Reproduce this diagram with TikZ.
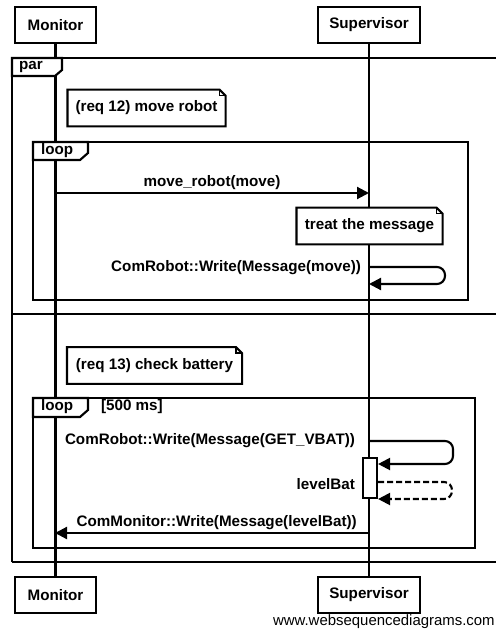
\documentclass[tikz,border=0pt]{standalone}
\usepackage{fontspec}
\setmainfont{Liberation Sans}
\usetikzlibrary{arrows.meta,calc}
\begin{document}
\begin{tikzpicture}[x=0.75pt,y=-0.75pt, line width=1.6pt, line join=miter,
  lbl/.style={font=\fontsize{11.4pt}{13pt}\selectfont\bfseries, inner sep=0pt},
  actor/.style={lbl, draw, fill=white, minimum height=27pt},
  notebox/.style={lbl, minimum height=26pt},
  msg/.style={-{Triangle[length=9pt,width=9pt]}},
  retmsg/.style={msg, dash pattern=on 4.5pt off 2.25pt},
  selfmsg/.style={msg, rounded corners=6pt},
]
\useasboundingbox (0,0) rectangle (496,629);
\clip (0,0) rectangle (496,629);

% actors
\node[actor, minimum width=61pt] (mon) at (55.5,25) {Monitor};
\node[actor, minimum width=76.5pt] (sup) at (369,25) {Supervisor};
\node[actor, minimum width=61pt] (mon2) at (55.5,595) {Monitor};
\node[actor, minimum width=76.5pt] (sup2) at (369,595) {Supervisor};

% lifelines
\draw (mon) -- (mon2);
\draw (sup) -- (sup2);

% par frame
\draw (12,562) -- (12,58) -- (510,58);
\draw (12,562) -- (510,562);
\draw (12,314) -- (510,314);
\draw[fill=white] (12,58) -- (62,58) -- (62,70) -- (55,76) -- (12,76) -- cycle;
\node[lbl, anchor=west] (partag) at (18,67) {par};

% note 1
\node[notebox, minimum width=117pt] (n1) at (146.5,108) {(req 12) move robot};
\draw[fill=white] (n1.south west) -- (n1.north west) -- ($(n1.north east)+(-6,0)$) -- ($(n1.north east)+(0,6)$) -- (n1.south east) -- cycle;
\draw[line width=1pt] ($(n1.north east)+(-6,0)$) -- ($(n1.north east)+(-6,6)$) -- ($(n1.north east)+(0,6)$);
\node[notebox, minimum width=117pt] at (n1) {(req 12) move robot};

% loop 1
\draw (33,142) rectangle (468,300);
\draw[fill=white] (33,142) -- (88,142) -- (88,153) -- (80,160) -- (33,160) -- cycle;
\node[lbl, anchor=west] (looptag1) at (40,151) {loop};

\coordinate (m1a) at (55,193);
\coordinate (m1b) at (369,193);
\draw[msg] (m1a) -- (m1b) node[lbl, midway, above=2pt] (m1l) {move\_robot(move)};

% note treat
\node[notebox, minimum width=108pt] (n3) at (369.5,226) {treat the message};
\draw[fill=white] (n3.south west) -- (n3.north west) -- ($(n3.north east)+(-6,0)$) -- ($(n3.north east)+(0,6)$) -- (n3.south east) -- cycle;
\draw[line width=1pt] ($(n3.north east)+(-6,0)$) -- ($(n3.north east)+(-6,6)$) -- ($(n3.north east)+(0,6)$);
\node[notebox, minimum width=108pt] at (n3) {treat the message};

\coordinate (s1a) at (369,267);
\coordinate (s1b) at (369,284);
\draw[selfmsg] (s1a) -- (445,267) -- (445,284) -- (s1b);
\node[lbl, anchor=east] (s1l) at (362,268) {ComRobot::Write(Message(move))};

% note 2
\node[notebox, minimum width=129.75pt] (n2) at (154.5,365.5) {(req 13) check battery};
\draw[fill=white] (n2.south west) -- (n2.north west) -- ($(n2.north east)+(-6,0)$) -- ($(n2.north east)+(0,6)$) -- (n2.south east) -- cycle;
\draw[line width=1pt] ($(n2.north east)+(-6,0)$) -- ($(n2.north east)+(-6,6)$) -- ($(n2.north east)+(0,6)$);
\node[notebox, minimum width=129.75pt] at (n2) {(req 13) check battery};

% loop 2
\draw (33,398) rectangle (475,548);
\draw[fill=white] (33,398) -- (88,398) -- (88,410) -- (80,417) -- (33,417) -- cycle;
\node[lbl, anchor=west] (looptag2) at (40,407) {loop};
\node[lbl, anchor=west] (guard) at (100,407) {[500 ms]};

% activation
\node[draw, fill=white, minimum width=10.5pt, minimum height=30pt, inner sep=0pt] (act) at (370,478) {};

\coordinate (s2a) at (369,441);
\coordinate (s2b) at (act.east |- 0,464);
\draw[selfmsg] (s2a) -- (453,441) -- (453,464) -- (s2b);
\node[lbl, anchor=east] (s2l) at (356,441) {ComRobot::Write(Message(GET\_VBAT))};

\coordinate (r1a) at (act.east |- 0,482);
\coordinate (r1b) at (act.east |- 0,499);
\draw[retmsg, rounded corners=6pt] (r1a) -- (452,482) -- (452,499) -- (r1b);
\node[lbl, anchor=east] (r1l) at (356,484) {levelBat};

\coordinate (m2a) at (369,533);
\coordinate (m2b) at (55,533);
\draw[msg] (m2a) -- (m2b) node[lbl, midway, above=2pt, xshift=3.5pt] (m2l) {ComMonitor::Write(Message(levelBat))};

% watermark
\node[font=\fontsize{11.2pt}{13pt}\selectfont, inner sep=0pt, anchor=west] (wm) at (272,622) {www.websequencediagrams.com};
\end{tikzpicture}
\end{document}
